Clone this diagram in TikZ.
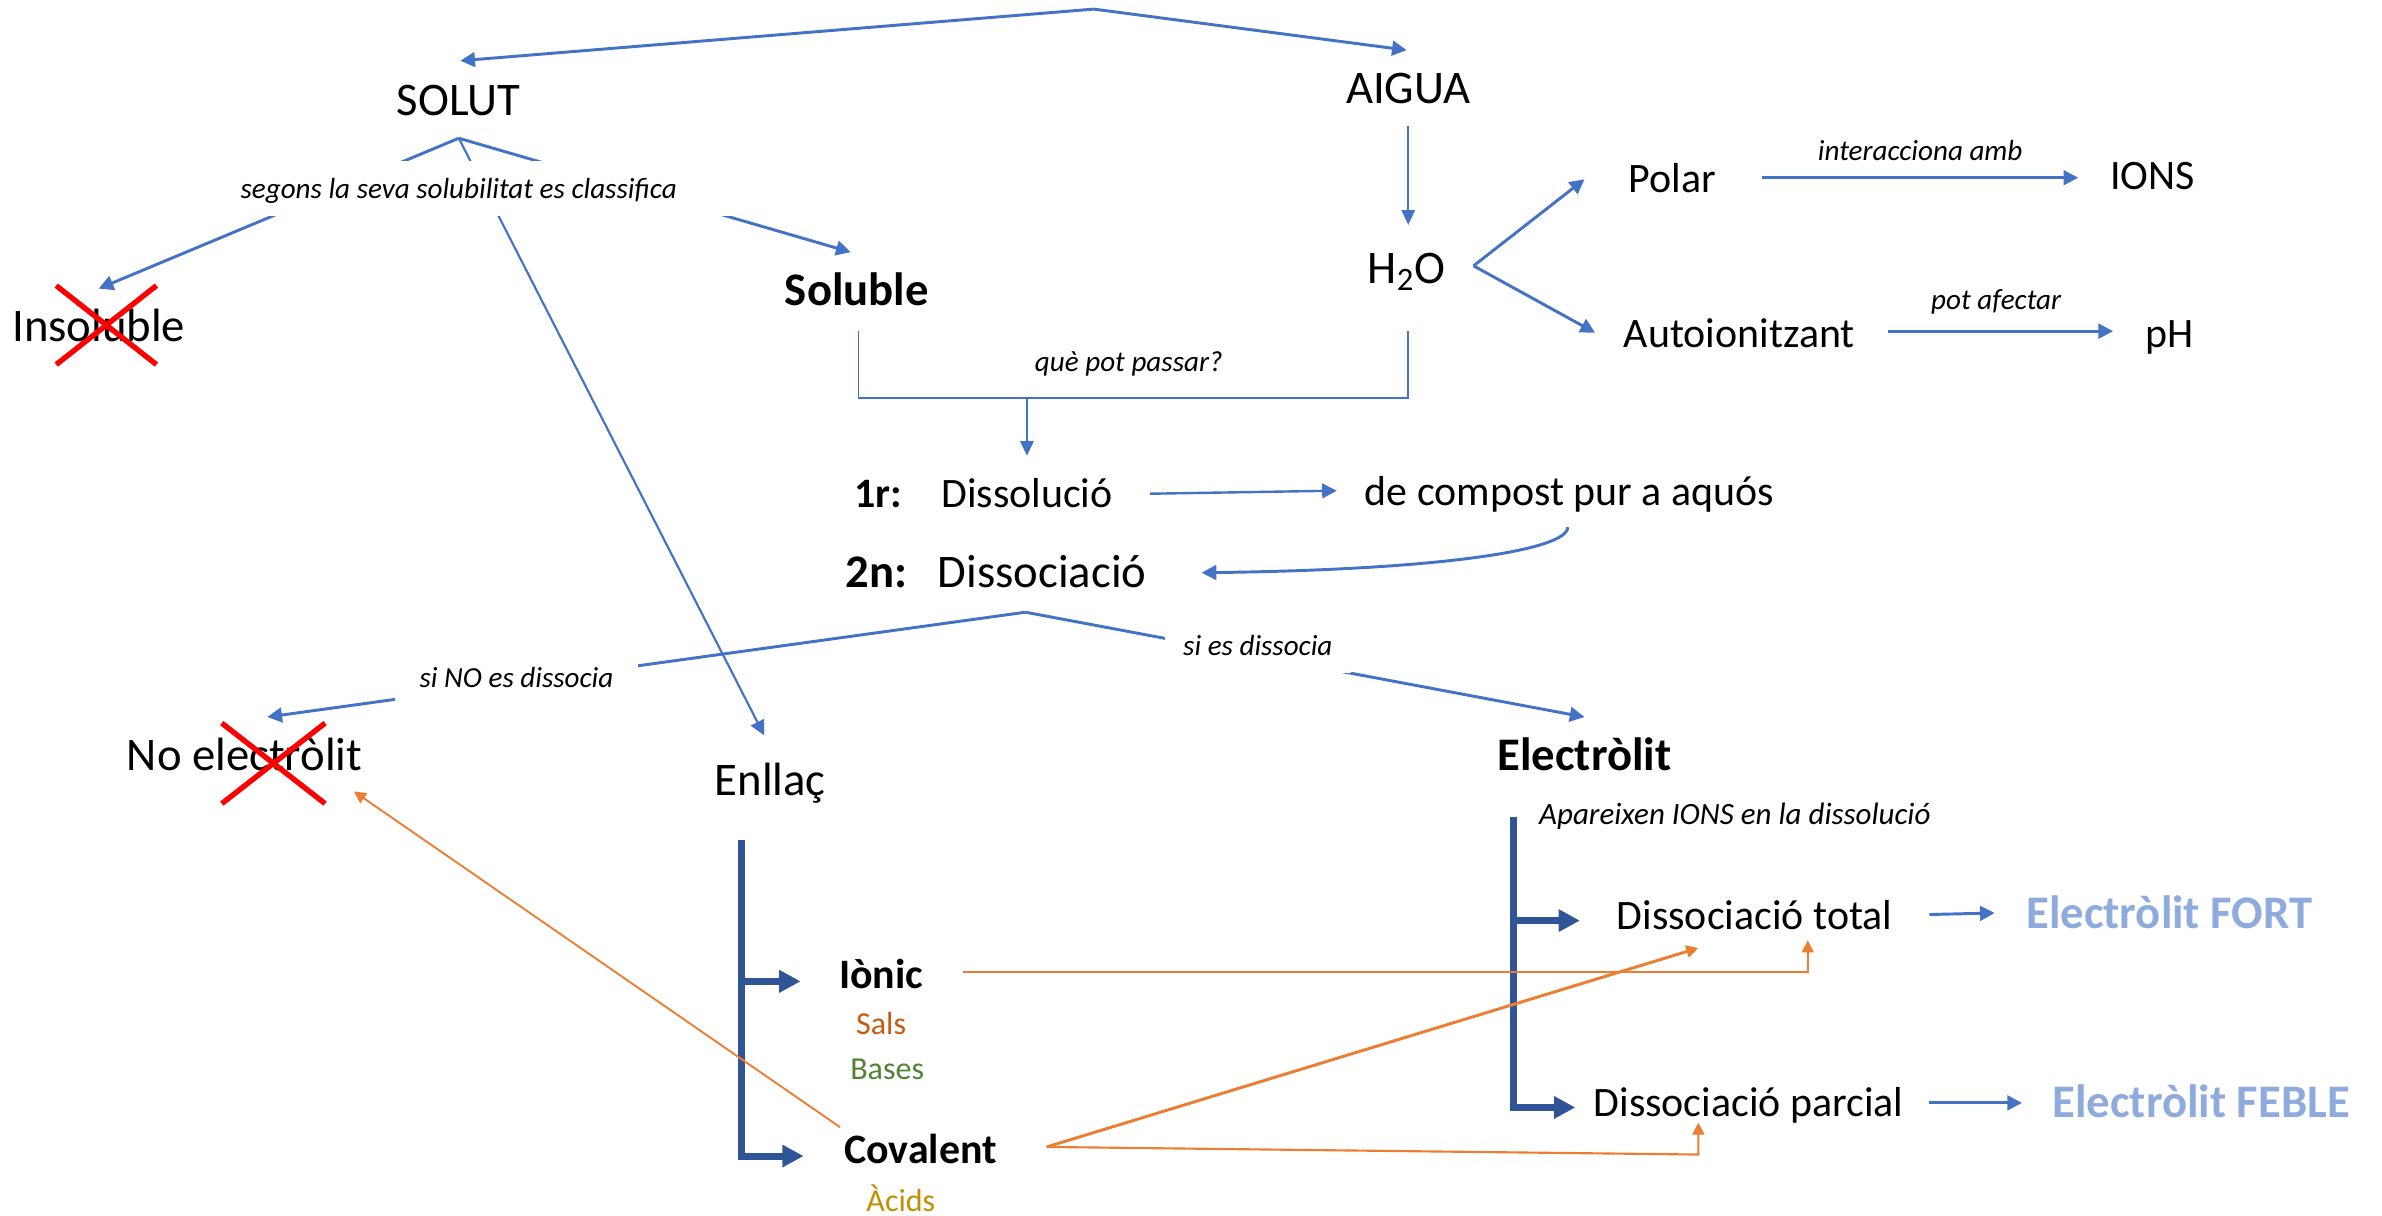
\documentclass[tikz,border=0pt]{standalone}
\usepackage{fontspec}
\setmainfont{Carlito}
\usetikzlibrary{arrows.meta}

\definecolor{linkblue}{HTML}{4472C4}
\definecolor{barblue}{HTML}{2F5597}
\definecolor{paleblue}{HTML}{8FAADC}
\definecolor{linkorange}{HTML}{ED7D31}
\definecolor{saltbrown}{HTML}{C55A11}
\definecolor{basegreen}{HTML}{538135}
\definecolor{acidgold}{HTML}{BF9000}
\definecolor{crossred}{HTML}{FF0000}

\tikzset{
  bigtext/.style={font=\fontsize{17.5}{21}\selectfont, text height=11.3pt, text depth=0pt, inner sep=0pt},
  midtext/.style={font=\fontsize{15.7}{19}\selectfont, text height=10.1pt, text depth=0pt, inner sep=0pt},
  tagtext/.style={font=\fontsize{12}{14}\selectfont, text height=7.7pt, text depth=0pt, inner sep=0pt},
  notetext/.style={font=\fontsize{10.9}{13}\selectfont\itshape, text=black, text height=7.4pt, text depth=0pt, inner sep=0pt},
  gaplabel/.style={notetext, fill=white, minimum height=0.72cm},
  link/.style={linkblue, line width=1.1pt, -{Triangle[length=5.5pt,width=5.5pt]}},
  thinlink/.style={linkblue, line width=0.6pt, -{Triangle[length=5.5pt,width=5pt]}},
  bar/.style={barblue, line width=2.6pt},
  bararrow/.style={bar, -{Triangle[length=8pt,width=8pt]}},
  orangelink/.style={linkorange, line width=0.7pt, -{Triangle[length=4.5pt,width=4.5pt]}},
  crossout/.style={crossred, line width=2pt},
}

\begin{document}
\begin{tikzpicture}[x=0.02cm, y=-0.02cm]
\useasboundingbox (0,0) rectangle (1568,800);

% top of the map
\node[bigtext] (solut) at (302,66) {SOLUT};
\node[bigtext] (aigua) at (927,58) {AIGUA};
\coordinate (top) at (720,6);
\coordinate (solutin) at (303,40);
\coordinate (aiguain) at (926,33);
\draw[link] (top) -- (solutin);
\draw[link] (top) -- (aiguain);

% solubility branch
\node[bigtext] (insol) at (65,215) {Insoluble};
\node[bigtext] (soluble) at (564,191) {\textbf{Soluble}};
\node[bigtext] (enllac) at (507,514) {Enllaç};
\coordinate (solutfork) at (302,91);
\coordinate (insolin) at (65,190);
\coordinate (solublein) at (560,166);
\coordinate (enllacin) at (503,484);
\draw[link] (solutfork) -- (insolin);
\draw[link] (solutfork) -- (solublein);
\draw[link, line width=0.8pt] (solutfork) -- (enllacin);
\node[gaplabel, minimum width=7.2cm] (segons) at (302,124) {segons la seva solubilitat es classifica};
\draw[crossout] (37,188) -- (103,240);
\draw[crossout] (103,188) -- (37,240);

% water
\node[bigtext] (h2o) at (926,177) {H\textsubscript{2}O};
\node[midtext] (polar) at (1101,118) {Polar};
\node[midtext] (ions) at (1417,116) {IONS};
\node[midtext] (autoion) at (1145,220) {Autoionitzant};
\node[midtext] (ph) at (1428,220) {pH};
\coordinate (aiguaout) at (927,83);
\coordinate (h2oin) at (927,148);
\draw[thinlink] (aiguaout) -- (h2oin);
\coordinate (h2ofork) at (970,175);
\coordinate (polarin) at (1043,118);
\coordinate (autoionin) at (1050,219);
\draw[link] (h2ofork) -- (polarin);
\draw[link] (h2ofork) -- (autoionin);
\coordinate (polarout) at (1160,117);
\coordinate (ionsin) at (1368,117);
\draw[link] (polarout) -- (ionsin) node[notetext, midway, yshift=0.36cm] (inter) {interacciona amb};
\coordinate (autoionout) at (1243,218);
\coordinate (phin) at (1391,218);
\draw[link] (autoionout) -- (phin) node[notetext, midway, xshift=-0.06cm, yshift=0.42cm] (afecta) {pot afectar};

% what happens in the solution
\coordinate (solubleout) at (565,218);
\coordinate (h2oout) at (927,218);
\draw[linkblue, line width=0.6pt] (solubleout) -- (565,262) -- (927,262) -- (h2oout);
\node[notetext] (passar) at (743,238) {què pot passar?};
\coordinate (passarout) at (676,262);
\coordinate (pas1in) at (676,300);
\draw[thinlink, line width=0.8pt] (passarout) -- (pas1in);

\node[midtext] (pas1) at (578,325) {\textbf{1r:}};
\node[midtext] (dissol) at (676,325) {Dissolució};
\node[midtext] (compost) at (1033,324) {de compost pur a aquós};
\coordinate (dissolout) at (757,325);
\coordinate (compostin) at (880,323);
\draw[link, line width=0.9pt] (dissolout) -- (compostin);

\node[bigtext] (pas2) at (577,377) {\textbf{2n:}};
\node[bigtext] (dissoc) at (686,377) {Dissociació};
\coordinate (compostout) at (1032,347);
\coordinate (dissocin) at (791,377);
\draw[link] (compostout) .. controls (1032,362) and (950,375) .. (dissocin);

% dissociation branch
\node[bigtext] (noelec) at (161,497) {No electròlit};
\node[bigtext] (elec) at (1043,497) {\textbf{Electròlit}};
\coordinate (dissocfork) at (675,403);
\coordinate (noelecin) at (176,472);
\coordinate (elecin) at (1043,472);
\draw[link] (dissocfork) -- (noelecin);
\draw[link] (dissocfork) -- (elecin);
\node[gaplabel, minimum width=3.2cm] (nodissoc) at (340,446) {si NO es dissocia};
\node[gaplabel, minimum width=2.45cm] (sidissoc) at (828,425) {si es dissocia};
\draw[crossout] (146,476) -- (214,529);
\draw[crossout] (214,476) -- (146,529);

% electrolytes
\node[notetext, font=\fontsize{11.6}{14}\selectfont\itshape] (apareix) at (1142,536) {Apareixen IONS en la dissolució};
\node[midtext] (dtotal) at (1155,603) {Dissociació total};
\node[midtext] (dparc) at (1151,726) {Dissociació parcial};
\node[bigtext, paleblue] (fort) at (1428,601) {\textbf{Electròlit FORT}};
\node[bigtext, paleblue] (feble) at (1449,726) {\textbf{Electròlit FEBLE}};
\coordinate (electop) at (996,538);
\coordinate (elecmid) at (996,606);
\coordinate (dtotalin) at (1040,606);
\coordinate (dparcin) at (1037,729);
\draw[bararrow] (electop) |- (dparcin);
\draw[bararrow] (elecmid) -- (dtotalin);
\coordinate (dtotalout) at (1270,602);
\coordinate (fortin) at (1313,601);
\coordinate (dparcout) at (1270,726);
\coordinate (feblein) at (1331,726);
\draw[link] (dtotalout) -- (fortin);
\draw[link] (dparcout) -- (feblein);

% bond types
\node[midtext] (ionic) at (580,642) {\textbf{Iònic}};
\node[tagtext, saltbrown] (sals) at (580,674) {Sals};
\node[tagtext, basegreen] (bases) at (584,704) {Bases};
\node[midtext] (coval) at (606,757) {\textbf{Covalent}};
\node[tagtext, acidgold] (acids) at (593,791) {Àcids};
\coordinate (enlltop) at (488,553);
\coordinate (enllmid) at (488,646);
\coordinate (ionicin) at (527,646);
\coordinate (covalin) at (529,761);
\draw[bararrow] (enlltop) |- (covalin);
\draw[bararrow] (enllmid) -- (ionicin);

% which bonds give which electrolytes
\coordinate (covalup) at (553,742);
\coordinate (noelecout) at (233,521);
\draw[orangelink] (covalup) -- (noelecout);
\coordinate (ionicout) at (634,640);
\coordinate (dtotalbot) at (1190,619);
\draw[orangelink] (ionicout) -| (dtotalbot);
\coordinate (covalout) at (689,755);
\coordinate (dtotalleft) at (1118,624);
\draw[orangelink, line width=1.1pt] (covalout) -- (dtotalleft);
\coordinate (dparcbot) at (1118,739);
\draw[orangelink, line width=0.8pt] (covalout) -- (1118,760) -- (dparcbot);
\end{tikzpicture}
\end{document}
